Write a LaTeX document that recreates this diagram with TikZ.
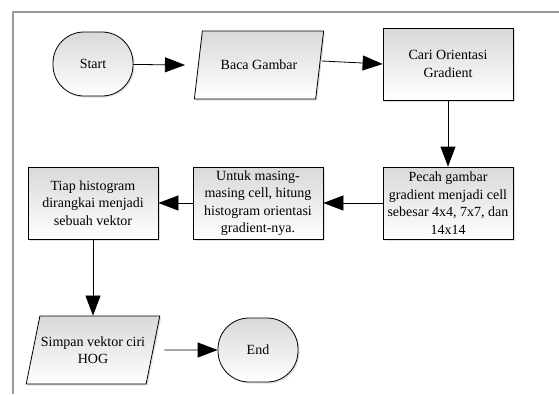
\documentclass[tikz,border=0pt]{standalone}
\usepackage{fontspec}
\setmainfont{Liberation Serif}
\usepackage{tikz}
\usetikzlibrary{calc,shapes,arrows.meta,shadows}

\tikzset{
	boxfill/.style={draw=black, thick, top color=gray!30, bottom color=white,
		drop shadow={shadow xshift=1.5pt, shadow yshift=-1.5pt, opacity=0.25},
		align=center, font=\fontsize{14}{17.5}\selectfont, inner sep=1pt},
	procbox/.style={boxfill, rectangle, minimum width=130pt, minimum height=72pt},
	termbox/.style={boxfill, rectangle, rounded corners=31pt, minimum width=80pt, minimum height=64pt},
	iobox/.style={boxfill, trapezium, trapezium left angle=65, trapezium right angle=115,
		trapezium stretches=true, minimum width=130pt, minimum height=68pt},
	flow/.style={black, thick, -{Triangle[length=20pt,width=15pt]}}
}

\begin{document}
\begin{tikzpicture}[x=1pt,y=-1pt]

		\useasboundingbox (0,0) rectangle (559,394);
		\draw[gray!80, line width=1.3pt] (13,394) -- (13,12) -- (559,12);

		\node[termbox, at={( 93, 64 )}] (start) {Start};
		\node[iobox, at={( 259, 65 )}] (baca) {Baca Gambar};
		\node[procbox, at={( 448, 64 )}] (cari) {Cari Orientasi\\Gradient};

		\node[procbox, at={( 448, 203 )}] (pecah) {Pecah gambar\\gradient menjadi cell\\sebesar 4x4, 7x7, dan\\14x14};
		\node[procbox, at={( 258, 203 )}] (untuk) {Untuk masing-\\masing cell, hitung\\histogram orientasi\\gradient-nya.};
		\node[procbox, at={( 93, 203 )}] (tiap) {Tiap histogram\\dirangkai menjadi\\sebuah vektor};

		\node[iobox, at={( 93, 350 )}] (simpan) {Simpan vektor ciri\\HOG};
		\node[termbox, at={( 258, 350 )}] (end) {End};

		\draw[flow] (start) -- ($(baca.west)+(-13,0)$);
		\draw[flow] ($(baca.east)+(2,-4)$) -- (cari.west);
		\draw[flow] (cari) -- (pecah);
		\draw[flow] (pecah) -- (untuk);
		\draw[flow] (untuk) -- (tiap);
		\draw[flow] (tiap) -- (simpan);
		\draw[flow] ($(simpan.east)+(11,0)$) -- (end);

	\end{tikzpicture}
\end{document}
